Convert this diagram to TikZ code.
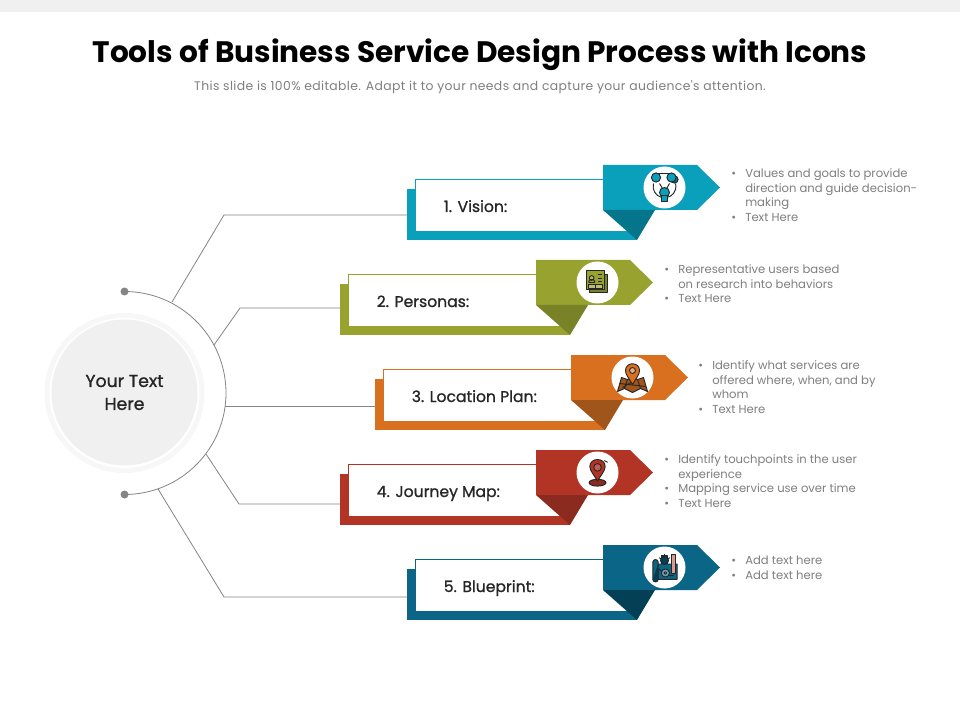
\documentclass[tikz,border=0pt]{standalone}
\usepackage{fontspec}
\setmainfont{Poppins}
\newfontfamily\medfont[FakeBold=1.0]{Poppins}
\newfontfamily\spacedfont[LetterSpace=3]{Poppins}
\definecolor{gtext}{HTML}{7F7F7F}
\definecolor{gline}{HTML}{858585}
\definecolor{ink}{HTML}{262626}
\definecolor{cA}{HTML}{0AA0BC}\definecolor{dA}{HTML}{05758C}
\definecolor{cB}{HTML}{98A22F}\definecolor{dB}{HTML}{7A8228}
\definecolor{cC}{HTML}{D8701F}\definecolor{dC}{HTML}{A0551B}
\definecolor{cD}{HTML}{B13424}\definecolor{dD}{HTML}{8B2A1E}
\definecolor{cE}{HTML}{0B6587}\definecolor{dE}{HTML}{033F55}
\tikzset{
 conn/.style={draw=gline,line width=0.6pt},
 backbox/.style={fill=#1,minimum width=172.5pt,minimum height=38.25pt,inner sep=0pt,outer sep=0pt},
 cardlabel/.style={anchor=base west,inner sep=0pt,text=ink,font=\medfont\fontsize{11.7pt}{14pt}\selectfont},
 notes/.style={anchor=north west,inner sep=0pt,align=left,text=gtext,font=\fontsize{8.7pt}{10.95pt}\selectfont},
 iconline/.style={draw=black!85,line width=0.7pt,line join=round},
}
\newcommand{\bul}{\makebox[10.5pt][l]{\textbullet}}
\newcommand{\ind}{\hspace*{10.5pt}}
% name, dx, dy, colour, dark colour, label
\newcommand{\card}[6]{%
 \begin{scope}[shift={(#2,#3)}]
  \node[backbox=#4] (back#1) at (522,214.5) {};
  \fill[white] (415.5,179) rectangle (632,231);
  \draw[#4,line width=0.6pt] (415.5,189) -- (415.5,179) -- (603,179);
  \fill[#4] (603,165) -- (697,165) -- (720,187.5) -- (697,210) -- (603,210) -- cycle;
  \fill[#5] (603,210) -- (655,210) -- (637,240) -- cycle;
  \node[circle,fill=white,minimum size=31.5pt,inner sep=0pt] (disc#1) at (664.5,187.5) {};
  \node[cardlabel] (label#1) at (443.5,212) {#6};
 \end{scope}}
\begin{document}
\begin{tikzpicture}[x=0.75pt,y=-0.75pt]
\useasboundingbox (0,0) rectangle (960,720);
\fill[white] (0,0) rectangle (960,720);
\fill[black!6] (0,0) rectangle (960,12);
\node[inner sep=0pt,text=black,font=\fontsize{22.2pt}{28pt}\bfseries\selectfont] (title) at (480,55) {Tools of Business Service Design Process with Icons};
\node[inner sep=0pt,text=gtext,font=\spacedfont\fontsize{9.3pt}{11pt}\selectfont] (subtitle) at (480,87) {This slide is 100\% editable. Adapt it to your needs and capture your audience's attention.};
% hub
\fill[black!3] (124.5,393) circle (80);
\fill[white] (124.5,393) circle (75);
\node[circle,fill=black!6,minimum size=109.5pt,inner sep=0pt,align=center,text=ink,font=\medfont\fontsize{13pt}{17.2pt}\selectfont] (hub) at (124.5,392.5) {Your Text\\Here};
\coordinate (d1) at (124.5,291.5);
\coordinate (d2) at (124.5,494.5);
\draw[conn] (d1) arc[start angle=-90,end angle=90,radius=101.5];
\fill[gline] (d1) circle (4);
\fill[gline] (d2) circle (4);
% cards
\card{A}{0}{0}{cA}{dA}{1. Vision:}
\card{B}{-67}{95}{cB}{dB}{2. Personas:}
\card{C}{-32}{190}{cC}{dC}{3. Location Plan:}
\card{D}{-67}{285}{cD}{dD}{4. Journey Map:}
\card{E}{0}{380}{cE}{dE}{5. Blueprint:}
% connectors
\coordinate (a1) at (172,302); \coordinate (e1) at (224,215);
\coordinate (a2) at (214,345); \coordinate (e2) at (240,308);
\coordinate (a3) at (225,406);
\coordinate (a4) at (206,454); \coordinate (e4) at (239,504);
\coordinate (a5) at (158,489); \coordinate (e5) at (224,597);
\draw[conn] (a1) -- (e1) -- (e1 -| backA.west);
\draw[conn] (a2) -- (e2) -- (e2 -| backB.west);
\draw[conn] (a3) -- (a3 -| backC.west);
\draw[conn] (a4) -- (e4) -- (e4 -| backD.west);
\draw[conn] (a5) -- (e5) -- (e5 -| backE.west);
% icon 1
\begin{scope}[shift={(discA.center)},yshift=0.75pt]
 \draw[iconline] (-11,-3) arc[start angle=195,end angle=-15,radius=11.4];
 \draw[iconline] (-7,-13) -- (6,-13);
 \draw[iconline,fill=dA] (10,-7) circle (3.6);
 \draw[iconline,fill=cA] (-8.5,-9) circle (4.6);
 \draw[iconline,fill=cA] (7,-9) circle (4.6);
 \draw[iconline,fill=dA] (-5,-3) -- (-2,2);
 \draw[iconline,fill=dA] (5,-3) -- (2,2);
 \draw[iconline,fill=cA] (0,6) circle (5);
 \draw[iconline,fill=cA] (-2.8,9) rectangle (2.8,15);
\end{scope}
% icon 2
\begin{scope}[shift={(discB.center)},scale=0.9]
 \draw[iconline,fill=dB] (-9,-9) rectangle (11,11);
 \draw[iconline,fill=cB] (-12,-13) rectangle (8,8);
 \draw[iconline,fill=white!30!cB] (-6.5,-5) circle (2.6);
 \draw[iconline] (-10,0) arc[start angle=180,end angle=360,radius=3.6];
 \draw[iconline] (-10,0) -- (-2.8,0);
 \draw[iconline] (0,-9) -- (5,-9) (0,-5) -- (5,-5) (0,-1) -- (5,-1);
 \draw[iconline,fill=white!30!cB] (-9.5,2) rectangle (5.5,6.5);
 \draw[iconline] (-2,2) -- (-2,6.5);
\end{scope}
% icon 3
\begin{scope}[shift={(discC.center)},yshift=-2.25pt]
 \draw[iconline,fill=dC] (-15,11) -- (-11,-3) -- (-5,-1) -- (0,-3) -- (5,-1) -- (11,-3) -- (15,11) -- (8,8) -- (0,12) -- (-8,8) -- cycle;
 \draw[iconline] (-5,-1) -- (-8,8) (5,-1) -- (8,8) (-13,3) -- (13,6) (-10,7) -- (0,1);
 \draw[iconline,fill=cC] (0,4) .. controls (-4,-3) and (-7,-6) .. (-7,-10) .. controls (-7,-19) and (7,-19) .. (7,-10) .. controls (7,-6) and (4,-3) .. (0,4) -- cycle;
 \draw[iconline,fill=white!40!cC] (0,-10) circle (3);
\end{scope}
% icon 4
\begin{scope}[shift={(discD.center)},scale=0.85]
 \draw[iconline,fill=dD] (0,12) ellipse (10 and 4);
 \draw[iconline,fill=cD] (0,10) .. controls (-4,3) and (-9,-2) .. (-9,-7) .. controls (-9,-18) and (9,-18) .. (9,-7) .. controls (9,-2) and (4,3) .. (0,10) -- cycle;
 \draw[iconline,fill=white!20!cD] (0,-6) circle (4.5);
 \draw[black!85,line width=0.7pt] (8,-14) -- (12,-12);
\end{scope}
% icon 5
\begin{scope}[shift={(discE.center)},yshift=-0.75pt,scale=0.9]
 \draw[iconline,fill=cE] (-13,-7) -- (-13,12) -- (14,12) -- (14,-5) -- (-7,-5) -- (-7,-7) arc[start angle=0,end angle=-180,radius=3] -- cycle;
 \draw[iconline,fill=dE] (-13,12) arc[start angle=180,end angle=0,radius=3] -- (-7,-5);
 \draw[iconline,fill=dE] (-3,-14) rectangle (3,-6);
 \draw[iconline,fill=dE] (0,-9) circle (4.5);
 \draw[line width=0.7pt,draw=black!85] (0,-16) -- (0,-14) (-6,-12) -- (-4,-11) (6,-12) -- (4,-11);
 \draw[iconline,fill=white!50!cD] (8,-16) rectangle (12,5);
 \draw[iconline,fill=white!40!cE] (1,5) circle (4.5);
 \draw[iconline,fill=white!50!cD] (1,5) circle (1.5);
 \draw[iconline] (-7,0) -- (-3,3) (5,8) -- (10,8);
\end{scope}
% notes
\node[notes] (noteA) at (731,168.5) {\bul Values and goals to provide\\\ind direction and guide decision-\\\ind making\\\bul Text Here};
\node[notes] (noteB) at (664,264.5) {\bul Representative users based\\\ind on research into behaviors\\\bul Text Here};
\node[notes] (noteC) at (698,360.5) {\bul Identify what services are\\\ind offered where, when, and by\\\ind whom\\\bul Text Here};
\node[notes] (noteD) at (664,454.5) {\bul Identify touchpoints in the user\\\ind experience\\\bul Mapping service use over time\\\bul Text Here};
\node[notes] (noteE) at (731,556) {\bul Add text here\\\bul Add text here};
\end{tikzpicture}
\end{document}
